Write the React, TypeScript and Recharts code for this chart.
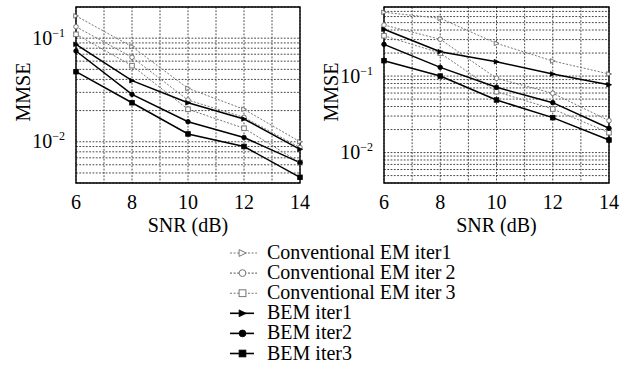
import React from 'react';
import { LineChart, Line, XAxis, YAxis, CartesianGrid, ReferenceArea } from 'recharts';

const FONT = '"Liberation Serif", "Times New Roman", serif';

// ---------- data ----------
const snr = [6, 8, 10, 12, 14];
const xTicks = [6, 7, 8, 9, 10, 11, 12, 13, 14];
const xLabels = [6, 8, 10, 12, 14];

const seriesNames = [
  'Conventional EM iter1',
  'Conventional EM iter\u20092',
  'Conventional EM iter\u20093',
  'BEM iter1',
  'BEM iter2',
  'BEM iter3',
];

// left panel
const convIter1Left = [0.164, 0.0828, 0.0328, 0.0206, 0.01];
const convIter2Left = [0.129, 0.0654, 0.0253, 0.0172, 0.0088];
const convIter3Left = [0.109, 0.0543, 0.0206, 0.0135, 0.0063];
const bemIter1Left = [0.0873, 0.0389, 0.0238, 0.0166, 0.00846];
const bemIter2Left = [0.0752, 0.0287, 0.0156, 0.011, 0.0063];
const bemIter3Left = [0.0475, 0.0238, 0.0119, 0.009, 0.00454];

// right panel
const convIter1Right = [0.682, 0.569, 0.268, 0.1575, 0.1065];
const convIter2Right = [0.465, 0.303, 0.0936, 0.0596, 0.0261];
const convIter3Right = [0.337, 0.2, 0.0625, 0.0371, 0.0182];
const bemIter1Right = [0.409, 0.208, 0.154, 0.1065, 0.077];
const bemIter2Right = [0.26, 0.13, 0.0714, 0.0449, 0.0208];
const bemIter3Right = [0.159, 0.1, 0.0487, 0.0286, 0.0146];

const yDomainLeft = [0.004, 0.2];
const yDomainRight = [0.004, 0.8];
const yTicksLeft = [
  0.004, 0.005, 0.006, 0.007, 0.008, 0.009, 0.01,
  0.02, 0.03, 0.04, 0.05, 0.06, 0.07, 0.08, 0.09, 0.1, 0.2,
];
const yTicksRight = [
  0.004, 0.005, 0.006, 0.007, 0.008, 0.009, 0.01,
  0.02, 0.03, 0.04, 0.05, 0.06, 0.07, 0.08, 0.09, 0.1,
  0.2, 0.3, 0.4, 0.5, 0.6, 0.7, 0.8,
];

const keys = ['c1', 'c2', 'c3', 'b1', 'b2', 'b3'];

function buildRows(cols: number[][]) {
  return snr.map((s, i) => {
    const row: Record<string, number> = { snr: s };
    keys.forEach((k, j) => {
      row[k] = cols[j][i];
    });
    return row;
  });
}

const dataLeft = buildRows([convIter1Left, convIter2Left, convIter3Left, bemIter1Left, bemIter2Left, bemIter3Left]);
const dataRight = buildRows([convIter1Right, convIter2Right, convIter3Right, bemIter1Right, bemIter2Right, bemIter3Right]);

// ---------- styles ----------
const GRAY = '#777';
const STYLES = [
  { key: 'c1', shape: 'tri', filled: false, color: GRAY, dash: '2 1.6', width: 1 },
  { key: 'c2', shape: 'circle', filled: false, color: GRAY, dash: '2 1.6', width: 1 },
  { key: 'c3', shape: 'square', filled: false, color: GRAY, dash: '2 1.6', width: 1 },
  { key: 'b1', shape: 'tri', filled: true, color: '#000', dash: undefined, width: 1.5 },
  { key: 'b2', shape: 'circle', filled: true, color: '#000', dash: undefined, width: 1.5 },
  { key: 'b3', shape: 'square', filled: true, color: '#000', dash: undefined, width: 1.5 },
];

function Marker({ cx, cy, shape, filled, color, r }: any) {
  if (cx == null || cy == null) return <g />;
  const fill = filled ? color : '#fff';
  const sw = filled ? 0.8 : 1;
  if (shape === 'tri') {
    const pts = `${cx - r},${cy - r} ${cx - r},${cy + r} ${cx + r * 1.1},${cy}`;
    return <polygon points={pts} fill={fill} stroke={color} strokeWidth={sw} />;
  }
  if (shape === 'circle') {
    return <circle cx={cx} cy={cy} r={r} fill={fill} stroke={color} strokeWidth={sw} />;
  }
  return <rect x={cx - r} y={cy - r} width={2 * r} height={2 * r} fill={fill} stroke={color} strokeWidth={sw} />;
}

const YTick = (props: any) => {
  const { x, y, payload } = props;
  const v = payload.value;
  const lg = Math.log10(v);
  const exp = Math.round(lg);
  if (Math.abs(lg - exp) > 1e-6) return <g />;
  return (
    <text x={x - 11} y={y + 6.5} textAnchor="end" fontFamily={FONT} fontSize={20} fill="#000">
      10
      <tspan dy={-8} fontSize={12}>{'\u2212' + String(-exp)}</tspan>
    </text>
  );
};

const XTick = (props: any) => {
  const { x, y, payload } = props;
  if (!xLabels.includes(payload.value)) return <g />;
  return (
    <text x={x} y={y + 26} textAnchor="middle" fontFamily={FONT} fontSize={20} fill="#000">
      {payload.value}
    </text>
  );
};

const XLabel = (props: any) => {
  const vb = props.viewBox || {};
  return (
    <text x={vb.x + vb.width / 2} y={vb.y + 49} textAnchor="middle" fontFamily={FONT} fontSize={20} fill="#000">
      SNR (dB)
    </text>
  );
};

const YLabel = (props: any) => {
  const vb = props.viewBox || {};
  const cx = vb.x + vb.width - 53;
  const cy = vb.y + vb.height / 2 - 3;
  return (
    <text
      x={cx}
      y={cy}
      dy="0.35em"
      textAnchor="middle"
      fontFamily={FONT}
      fontSize={20}
      fill="#000"
      transform={`rotate(-90 ${cx} ${cy})`}
    >
      MMSE
    </text>
  );
};

function Panel({ data, domain, ticks, margin }: any) {
  return (
    <LineChart width={315} height={240} data={data} margin={margin}>
      <CartesianGrid stroke="#333" strokeDasharray="1.8 1.5" strokeWidth={0.9} />
      <XAxis
        dataKey="snr"
        type="number"
        domain={[6, 14]}
        ticks={xTicks}
        interval={0}
        height={50}
        axisLine={false}
        tickLine={false}
        tickSize={0}
        tickMargin={0}
        tick={<XTick />}
        label={XLabel}
      />
      <YAxis
        type="number"
        scale="log"
        domain={domain}
        allowDataOverflow
        ticks={ticks}
        interval={0}
        width={60}
        axisLine={false}
        tickLine={false}
        tickSize={0}
        tickMargin={0}
        tick={<YTick />}
        label={YLabel}
      />
      {STYLES.map((s) => (
        <Line
          key={s.key}
          dataKey={s.key}
          type="linear"
          stroke={s.color}
          strokeWidth={s.width}
          strokeDasharray={s.dash}
          isAnimationActive={false}
          activeDot={false}
          dot={(p: any) => (
            <Marker
              key={`${s.key}-${p.index}`}
              cx={p.cx}
              cy={p.cy}
              shape={s.shape}
              filled={s.filled}
              color={s.color}
              r={2.3}
            />
          )}
        />
      ))}
      <ReferenceArea
        x1={6}
        x2={14}
        y1={domain[0]}
        y2={domain[1]}
        fill="none"
        fillOpacity={0}
        stroke="#000"
        strokeWidth={1.4}
        ifOverflow="visible"
      />
    </LineChart>
  );
}

function LegendBlock() {
  const rowY = (i: number) => 13 + i * 20.1;
  return (
    <svg width={630} height={134} style={{ position: 'absolute', left: 0, top: 240 }}>
      {STYLES.map((s, i) => {
        const cy = rowY(i);
        return (
          <g key={s.key}>
            <line
              x1={230}
              x2={s.filled ? 254 : 257}
              y1={cy}
              y2={cy}
              stroke={s.color}
              strokeWidth={s.filled ? 1.6 : 1.1}
              strokeDasharray={s.dash}
            />
            <Marker cx={242.5} cy={cy} shape={s.shape} filled={s.filled} color={s.color} r={3.4} />
            <text x={267} y={cy + 6} fontFamily={FONT} fontSize={20} fill="#000">
              {seriesNames[i]}
            </text>
          </g>
        );
      })}
    </svg>
  );
}

export default function App() {
  return (
    <div style={{ position: 'absolute', left: 0, top: 0, width: 630, height: 374, background: '#fff' }}>
      <div style={{ position: 'absolute', left: 0, top: 0 }}>
        <Panel data={dataLeft} domain={yDomainLeft} ticks={yTicksLeft} margin={{ top: 7, right: 15, bottom: 7, left: 16 }} />
      </div>
      <div style={{ position: 'absolute', left: 315, top: 0 }}>
        <Panel data={dataRight} domain={yDomainRight} ticks={yTicksRight} margin={{ top: 7, right: 21, bottom: 7, left: 9 }} />
      </div>
      <LegendBlock />
    </div>
  );
}
